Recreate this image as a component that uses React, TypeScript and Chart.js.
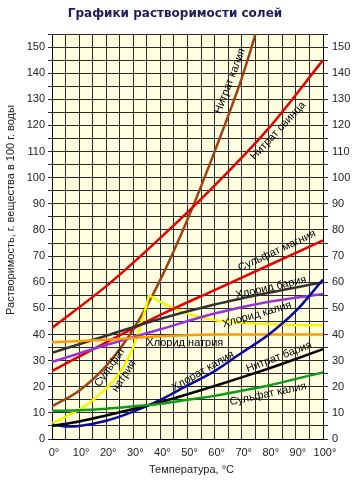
import React, { useEffect, useRef } from 'react';
import { Chart, registerables } from 'chart.js';
Chart.register(...registerables);

const FONT = '"Liberation Sans", Arial, sans-serif';

const chartTitle = 'Графики растворимости солей';
const yTitle = 'Растворимость, г. вещества в 100 г. воды';
const xTitle = 'Температура, °C';

// Нитрат калия
const kno3T = [0, 10, 20, 30, 40, 50, 60, 70, 76];
const kno3V = [12.5, 18.5, 28, 42, 61, 84, 110, 138, 158];
// Нитрат свинца
const pbT = [0, 20, 40, 60, 80, 100];
const pbV = [42.5, 58.5, 77, 97, 119, 145];
// Сульфат магния
const mgT = [0, 20, 40, 60, 80, 100];
const mgV = [26, 37, 47.5, 57, 66.5, 76];
// Хлорид бария
const bacl2T = [0, 20, 40, 60, 80, 100];
const bacl2V = [33, 39.5, 46, 51.5, 56, 60];
// Хлорид калия
const kclT = [0, 20, 40, 60, 80, 100];
const kclV = [29.5, 36, 42, 48, 52.5, 55.5];
// Хлорид натрия
const naclT = [0, 20, 40, 60, 80, 100];
const naclV = [37, 38, 39.3, 40, 40, 40];
// Сульфат натрия (rising / falling branch)
const na2so4UpT = [0, 5, 14, 24, 29.5, 33.7, 35.8];
const na2so4UpV = [6, 8.5, 14, 24, 34, 46.8, 55];
const na2so4DownT = [35.8, 40, 45, 50, 60, 70, 80, 90, 100];
const na2so4DownV = [55, 52.5, 50, 48, 45.5, 44.5, 44, 43.5, 43.5];
// Хлорат калия
const kclo3T = [0, 5, 10, 20, 30, 40, 50, 60, 70, 80, 90, 100];
const kclo3V = [5.5, 4.8, 5, 7, 10.5, 15, 20.5, 26, 33, 40, 49, 61];
// Нитрат бария
const banoT = [0, 10, 20, 30, 40, 50, 60, 70, 80, 90, 100];
const banoV = [5, 6.7, 9, 11.5, 14.1, 17.1, 20.3, 23.6, 27, 30.6, 34.4];
// Сульфат калия
const k2so4T = [0, 10, 20, 30, 40, 50, 60, 70, 80, 90, 100];
const k2so4V = [10.8, 11, 11.6, 12.5, 13.5, 15, 16.5, 18.5, 20.5, 23, 25.5];

// curve labels: text, temperature, value, angle (deg)
const labelText = ['Нитрат калия', 'Нитрат свинца', 'Сульфат магния', 'Хлорид бария', 'Хлорид калия', 'Хлорид натрия', 'Сульфат', 'натрия', 'Хлорат калия', 'Нитрат бария', 'Сульфат калия'];
const labelT = [65.7, 83.4, 83, 80.8, 75.6, 49, 21.4, 26.6, 55.7, 83.8, 79.7];
const labelV = [137, 118, 72, 58, 47.6, 36.7, 27.5, 24, 26, 31.4, 17.2];
const labelA = [-69, -47, -25, -13, -16, 0, -55, -57, -30, -21, -12];

const pts = (t: number[], v: number[]) => t.map((x, i) => ({ x, y: v[i] }));

const ds = (t: number[], v: number[], color: string) => ({
  data: pts(t, v),
  borderColor: color,
  backgroundColor: color,
  borderWidth: 2.5,
  pointRadius: 0,
  fill: false,
  cubicInterpolationMode: 'monotone' as const,
});

const decor = {
  id: 'decor',
  beforeDraw(chart: any) {
    const { ctx, chartArea: a } = chart;
    ctx.save();
    ctx.fillStyle = '#FFFFE0';
    ctx.fillRect(a.left, a.top, a.right - a.left, a.bottom - a.top);
    ctx.restore();
  },
  afterDraw(chart: any) {
    const { ctx, chartArea: a, scales } = chart;
    ctx.save();
    ctx.fillStyle = '#1c1c5c';
    ctx.font = `bold 12px "DejaVu Sans", Verdana, sans-serif`;
    ctx.textAlign = 'center';
    ctx.textBaseline = 'middle';
    ctx.fillText(chartTitle, 175, 14);

    ctx.fillStyle = '#222';
    ctx.font = `11px ${FONT}`;
    ctx.fillText(xTitle, (a.left + a.right) / 2 + 4, 470);
    ctx.save();
    ctx.translate(11, 210);
    ctx.rotate(-Math.PI / 2);
    ctx.fillText(yTitle, 0, 0);
    ctx.restore();

    ctx.beginPath();
    ctx.rect(a.left, a.top, a.right - a.left, a.bottom - a.top);
    ctx.clip();
    ctx.fillStyle = '#000';
    ctx.font = `11px ${FONT}`;
    labelText.forEach((txt, i) => {
      const x = scales.x.getPixelForValue(labelT[i]);
      const y = scales.y.getPixelForValue(labelV[i]);
      ctx.save();
      ctx.translate(x, y);
      ctx.rotate((labelA[i] * Math.PI) / 180);
      ctx.fillText(txt, 0, 0);
      ctx.restore();
    });
    ctx.restore();
  },
};

export default function App() {
  const ref = useRef<HTMLCanvasElement>(null);
  useEffect(() => {
    document.body.style.margin = '0';
    const tickFont = { family: FONT, size: 11 };
    const chart = new Chart(ref.current!, {
      type: 'line',
      data: {
        datasets: [
          ds(k2so4T, k2so4V, '#0f9a1a'),
          ds(banoT, banoV, '#000000'),
          ds(kclo3T, kclo3V, '#0a0a9c'),
          ds(naclT, naclV, '#ff9900'),
          ds(kclT, kclV, '#9a33d6'),
          ds(bacl2T, bacl2V, '#333333'),
          ds(mgT, mgV, '#e60000'),
          ds(na2so4UpT, na2so4UpV, '#f5f500'),
          ds(na2so4DownT, na2so4DownV, '#f5f500'),
          ds(pbT, pbV, '#e60000'),
          ds(kno3T, kno3V, '#9c4214'),
        ],
      },
      options: {
        responsive: false,
        animation: false,
        layout: { padding: { top: 34, left: 0, right: 0, bottom: 0 } },
        plugins: { legend: { display: false }, tooltip: { enabled: false }, title: { display: false } },
        scales: {
          x: {
            type: 'linear',
            min: 0,
            max: 100,
            afterFit: (s: any) => { s.height = 44; },
            border: { color: '#000', width: 1 },
            grid: { color: '#2a2a2a', lineWidth: 1, drawTicks: false },
            ticks: {
              stepSize: 5,
              autoSkip: false,
              maxRotation: 0,
              padding: 7,
              labelOffset: 2,
              color: '#222',
              font: tickFont,
              callback: (v: any) => (v % 10 === 0 ? `${v}°` : ''),
            },
          },
          y: {
            type: 'linear',
            position: 'left',
            min: 0,
            max: 155,
            afterFit: (s: any) => { s.width = 52; },
            border: { color: '#000', width: 1 },
            grid: { color: '#2a2a2a', lineWidth: 1, tickLength: 4 },
            ticks: {
              stepSize: 5,
              autoSkip: false,
              padding: 3,
              color: '#222',
              font: tickFont,
              callback: (v: any) => (v % 10 === 0 ? `${v}` : ''),
            },
          },
          y2: {
            type: 'linear',
            position: 'right',
            min: 0,
            max: 155,
            afterFit: (s: any) => { s.width = 33; },
            border: { color: '#000', width: 1 },
            grid: { drawOnChartArea: false, color: '#2a2a2a', tickLength: 5 },
            ticks: {
              stepSize: 5,
              autoSkip: false,
              padding: 4,
              color: '#222',
              font: tickFont,
              callback: (v: any) => (v % 10 === 0 ? `${v}` : ''),
            },
          },
        },
      },
      plugins: [decor],
    });
    return () => chart.destroy();
  }, []);
  return <canvas ref={ref} width={356} height={483} style={{ display: 'block' }} />;
}
